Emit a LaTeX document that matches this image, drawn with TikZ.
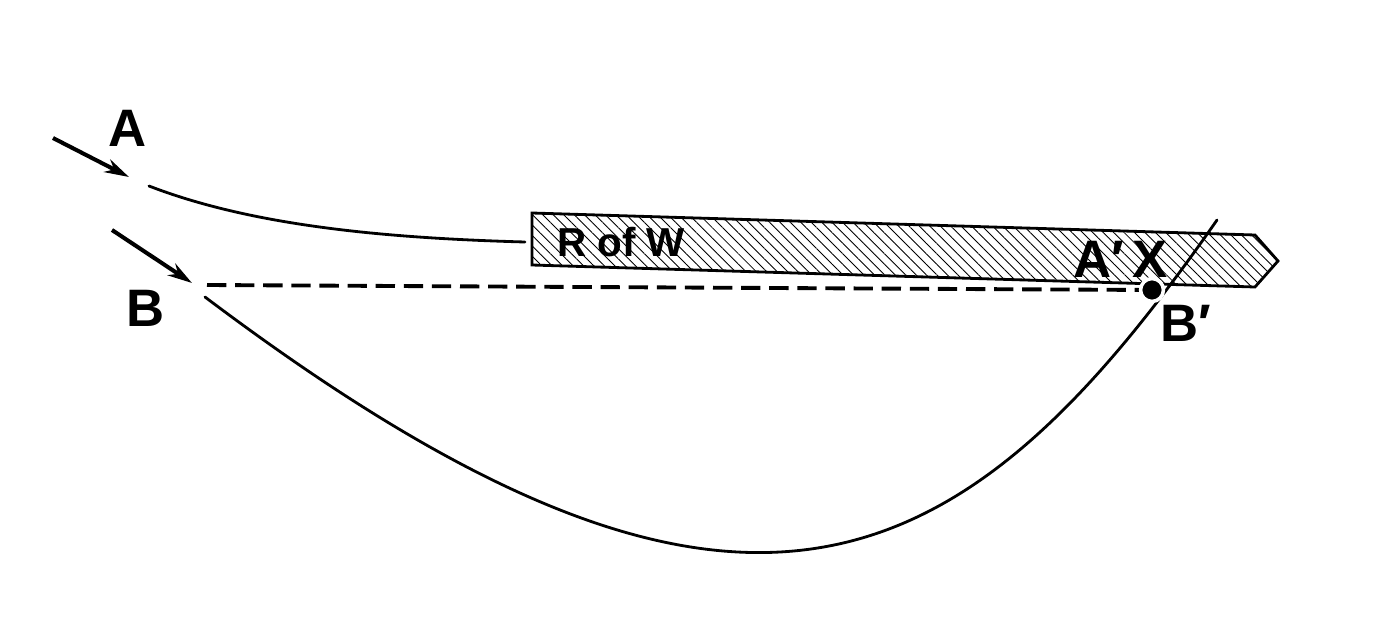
\documentclass[tikz,border=0pt]{standalone}
\usepackage{fontspec}
\setmainfont{Liberation Sans}
\usetikzlibrary{arrows.meta, patterns.meta}
\tikzset{
    lbl/.style={font=\bfseries\fontsize{30}{32}\selectfont, inner sep=0pt},
    rodlbl/.style={font=\bfseries\fontsize{23}{25}\selectfont, inner sep=0pt},
    flightpath/.style={line width=1.6pt, line cap=round},
    straightpath/.style={line width=2.2pt, dash pattern=on 11pt off 5pt},
    pointer/.style={-{Stealth[length=14pt, width=8pt]}, line width=2.3pt},
    rodbody/.style={line width=1.6pt, line join=miter,
        pattern={Lines[angle=-45, distance=4.2pt, line width=0.5pt]}},
    hitdot/.style={circle, fill=black, draw=white, line width=2pt, minimum size=13pt, inner sep=0pt},
}
\begin{document}
\begin{tikzpicture}[x=0.02cm, y=-0.02cm]
    \useasboundingbox (0,0) rectangle (1400,632);

    % rod
    \draw[rodbody] (532,213) -- (1255,235) -- (1278,261) -- (1255,287) -- (532,265) -- cycle;
    \node[rodlbl] (rod) at (621,242) {R of W};

    % points
    \coordinate (ain) at (53,138);
    \coordinate (astart) at (149,186);
    \coordinate (aend) at (525,242);
    \coordinate (bin) at (112,230);
    \coordinate (bstart) at (207,285);
    \coordinate (blow) at (205,297);
    \coordinate (bend) at (1217,220);
    \coordinate (hitpt) at (1152,290);

    % labels
    \node[lbl] (la) at (128,128) {A};
    \node[lbl] (lb) at (146,308) {B};
    \node[lbl] (laa) at (1099,259) {A′};
    \node[lbl] (lx) at (1150,259) {X};
    \node[lbl] (lbb) at (1186,323) {B′};

    % incoming arrows
    \draw[pointer] (ain) -- (129,177);
    \draw[pointer] (bin) -- (192,283);

    % paths
    \draw[flightpath] (astart) .. controls (250,225) and (380,238) .. (aend);
    \draw[straightpath] (bstart) -- (hitpt);
    \draw[flightpath] (blow) .. controls (740,700) and (960,590) .. (bend);
    \node[hitdot] (hit) at (hitpt) {};
\end{tikzpicture}
\end{document}
